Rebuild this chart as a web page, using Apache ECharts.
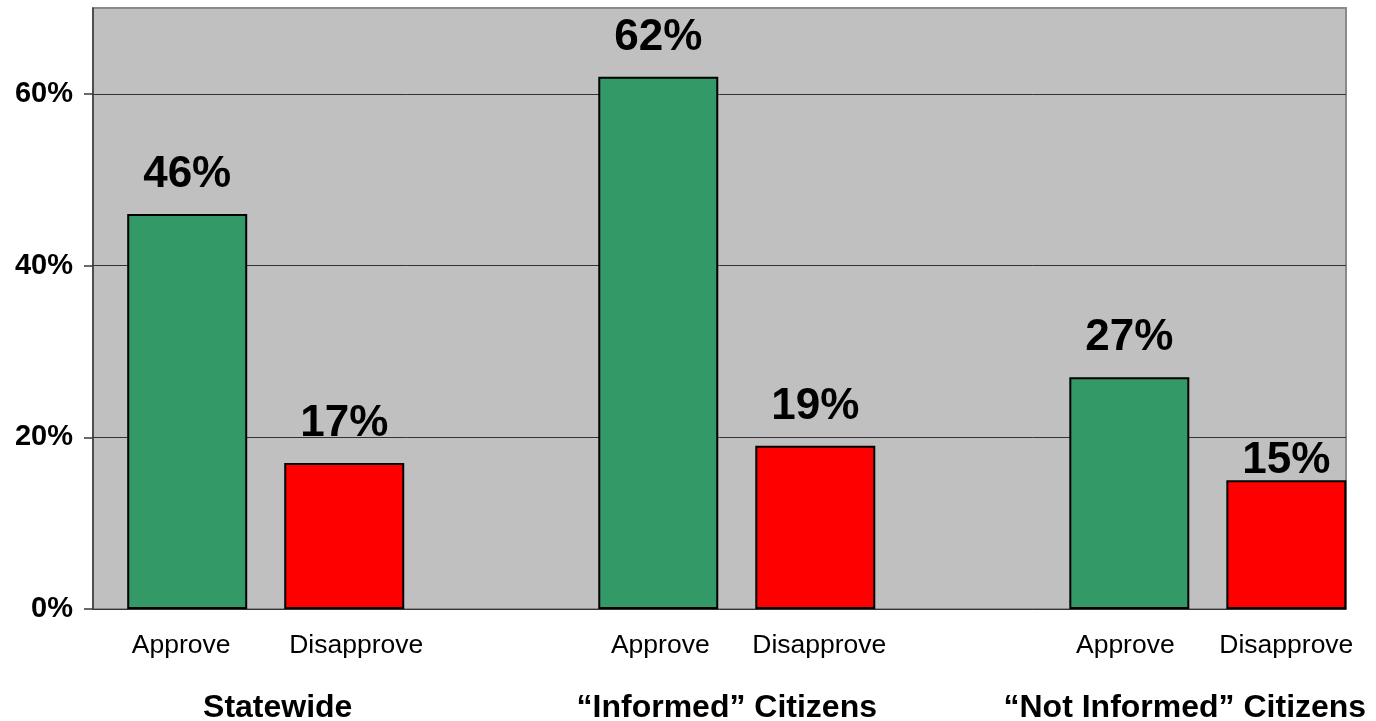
<!DOCTYPE html>
<html>
<head>
<meta charset="utf-8">
<script src="https://cdn.jsdelivr.net/npm/echarts@6/dist/echarts.min.js"></script>
<style>
  html, body { margin: 0; padding: 0; background: #fff; }
  #chart { width: 1376px; height: 721px; }
</style>
</head>
<body>
<div id="chart"></div>
<script>
// Survey groups and the two responses shown for each
const groups = ['Statewide', '\u201cInformed\u201d Citizens', '\u201cNot Informed\u201d Citizens'];
const responses = ['Approve', 'Disapprove'];
// Share of respondents (%) per group
const approve = [46, 62, 27];
const disapprove = [17, 19, 15];
// Value-axis tick labels
const yTicks = [0, 20, 40, 60];

const FONT = '"Liberation Sans", Arial, Helvetica, sans-serif';

// Each group takes three slots on the x axis: Approve, Disapprove, then a gap
const slotOf = (g, r) => g * 3 + r;

const approveData = approve.map((v, g) => [slotOf(g, 0), v]);
const disapproveData = disapprove.map((v, g) => {
  const item = { value: [slotOf(g, 1), v] };
  // the last value label sits lower, just above its bar
  if (g === disapprove.length - 1) item.label = { distance: -3 };
  return item;
});

// Response captions under every bar
const responseItems = [];
groups.forEach((_, g) => responses.forEach((name, r) => responseItems.push({ slot: slotOf(g, r), name })));
// Small horizontal nudges for the captions (px)
const responseNudge = [-6, 12, 2, 4, -4, 0];
const groupNudge = [12, -10, -23];

const chart = echarts.init(document.getElementById('chart'), null, { renderer: 'canvas' });

const barLabel = {
  show: true,
  position: 'top',
  distance: 17,
  formatter: p => (Array.isArray(p.value) ? p.value[1] : p.value) + '%',
  fontFamily: FONT,
  fontSize: 44,
  fontWeight: 'bold',
  color: '#000'
};

chart.setOption({
  backgroundColor: '#ffffff',
  animation: false,
  grid: {
    left: 93, right: 30, top: 8, bottom: 112,
    show: true,
    backgroundColor: '#c0c0c0',
    borderColor: '#8a8a8a',
    borderWidth: 2
  },
  xAxis: {
    type: 'value',
    min: -0.6,
    max: 7.38,
    axisLine: { show: false },
    axisTick: { show: false },
    axisLabel: { show: false },
    splitLine: { show: false }
  },
  yAxis: {
    type: 'value',
    min: 0,
    max: 70,
    interval: 20,
    axisLine: { show: true, onZero: false, lineStyle: { color: '#3a3a3a', width: 1.5 } },
    axisTick: { show: true, length: 9, customValues: yTicks, lineStyle: { color: '#3a3a3a', width: 1.5 } },
    axisLabel: {
      customValues: yTicks,
      formatter: '{value}%',
      fontFamily: FONT,
      fontSize: 29,
      fontWeight: 'bold',
      color: '#000',
      margin: 20
    },
    splitLine: { show: true, lineStyle: { color: '#333333', width: 1 } }
  },
  series: [
    {
      name: responses[0],
      type: 'bar',
      barWidth: 120,
      barGap: '-100%',
      data: approveData,
      itemStyle: { color: '#339966', borderColor: '#000', borderWidth: 2 },
      label: barLabel,
      z: 3
    },
    {
      name: responses[1],
      type: 'bar',
      barWidth: 120,
      barGap: '-100%',
      data: disapproveData,
      itemStyle: { color: '#ff0000', borderColor: '#000', borderWidth: 2 },
      label: barLabel,
      z: 3
    },
    {
      // response captions below the axis
      type: 'custom',
      clip: false,
      silent: true,
      data: responseItems.map(d => [d.slot, 0]),
      renderItem: (params, api) => {
        const p = api.coord([api.value(0), 0]);
        return {
          type: 'text',
          x: p[0] + responseNudge[params.dataIndex],
          y: p[1] + 37,
          style: {
            text: responseItems[params.dataIndex].name,
            fill: '#000',
            font: '26.5px ' + FONT,
            align: 'center',
            verticalAlign: 'middle'
          }
        };
      }
    },
    {
      // group captions centred under each pair of bars
      type: 'custom',
      clip: false,
      silent: true,
      data: groups.map((_, g) => [slotOf(g, 0.5), 0]),
      renderItem: (params, api) => {
        const p = api.coord([api.value(0), 0]);
        return {
          type: 'text',
          x: p[0] + groupNudge[params.dataIndex],
          y: p[1] + 99,
          style: {
            text: groups[params.dataIndex],
            fill: '#000',
            font: 'bold 32px ' + FONT,
            align: 'center',
            verticalAlign: 'middle'
          }
        };
      }
    }
  ]
});
</script>
</body>
</html>
